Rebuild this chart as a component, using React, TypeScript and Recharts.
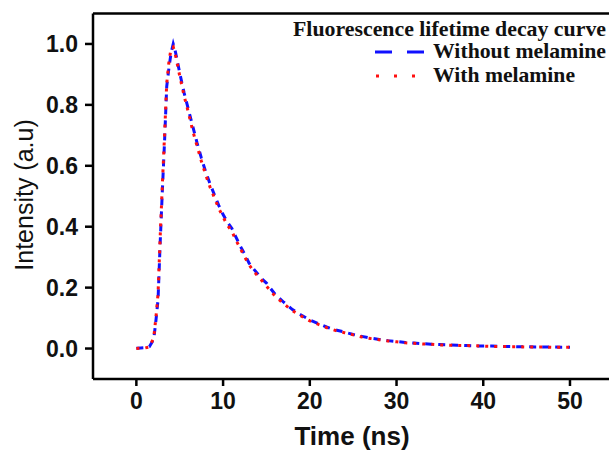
import {
  LineChart,
  Line,
  XAxis,
  YAxis,
  Label,
  Legend,
  ReferenceLine,
} from 'recharts'

// time axis (ns)
const times = [
  0, 0.5, 1, 1.5,
  2, 2.25, 2.5, 2.75, 3, 3.25, 3.5, 3.75, 4, 4.25, 4.5, 4.75,
  5, 5.5, 6, 6.5, 7, 7.5, 8, 8.5, 9, 9.5, 10, 10.5, 11, 11.5, 12, 12.5, 13, 13.5, 14, 14.5, 15,
  16, 17, 18, 19, 20, 21, 22, 23, 24, 25, 26, 27, 28, 29, 30, 31, 32, 33,
  34, 35, 36, 37, 38, 39, 40, 41, 42, 43, 44, 45, 46, 47, 48, 49, 50,
]

const withoutMelamine = [
  0.001, 0.002, 0.003, 0.006,
  0.03, 0.09, 0.16, 0.35, 0.52, 0.68, 0.86, 0.92, 0.97, 1.0, 0.975, 0.94,
  0.905, 0.84, 0.785, 0.73, 0.675, 0.625, 0.58, 0.54, 0.505, 0.47, 0.44, 0.415, 0.395, 0.365, 0.335, 0.31, 0.28, 0.262, 0.245, 0.228, 0.215,
  0.178, 0.152, 0.128, 0.11, 0.094, 0.082, 0.07, 0.061, 0.054, 0.046, 0.04, 0.034, 0.03, 0.026, 0.023, 0.02, 0.018, 0.016,
  0.014, 0.013, 0.012, 0.011, 0.01, 0.009, 0.008, 0.008, 0.007, 0.007, 0.006, 0.006, 0.005, 0.005, 0.005, 0.004, 0.004,
]

const withMelamine = [
  0.0, 0.001, 0.002, 0.005,
  0.035, 0.1, 0.18, 0.37, 0.54, 0.7, 0.87, 0.94, 0.985, 0.99, 0.965, 0.93,
  0.895, 0.83, 0.775, 0.715, 0.665, 0.615, 0.57, 0.53, 0.495, 0.46, 0.432, 0.405, 0.385, 0.355, 0.328, 0.3, 0.275, 0.255, 0.238, 0.222, 0.205,
  0.172, 0.147, 0.124, 0.107, 0.091, 0.079, 0.068, 0.059, 0.052, 0.045, 0.038, 0.033, 0.029, 0.025, 0.022, 0.019, 0.017, 0.015,
  0.014, 0.012, 0.011, 0.01, 0.01, 0.009, 0.008, 0.007, 0.007, 0.006, 0.006, 0.005, 0.005, 0.005, 0.004, 0.004, 0.004,
]

const xTicks = [0, 10, 20, 30, 40, 50]
const yTicks = [0, 0.2, 0.4, 0.6, 0.8, 1.0]

const data = times.map((t, i) => ({
  t,
  without: withoutMelamine[i],
  with: withMelamine[i],
}))

const sans = '"Liberation Sans", Arial, sans-serif'
const serif = '"Liberation Serif", "Times New Roman", serif'

const tickStyle = { fontSize: 23, fontWeight: 700, fill: '#111', fontFamily: sans }

const renderLegend = () => (
  <svg width={609} height={95} style={{ display: 'block' }}>
    <text x={293} y={36} textLength={313} lengthAdjust="spacingAndGlyphs"
      fontFamily={serif} fontWeight={700} fontSize={21} fill="#111">
      Fluorescence lifetime decay curve
    </text>
    <line x1={375} x2={424} y1={52} y2={52} stroke="#1010ff" strokeWidth={3} strokeDasharray="17 15" />
    <text x={433} y={58} textLength={173} lengthAdjust="spacingAndGlyphs"
      fontFamily={serif} fontWeight={700} fontSize={21} fill="#111">
      Without melamine
    </text>
    <line x1={376} x2={416} y1={76} y2={76} stroke="#ff1010" strokeWidth={3} strokeDasharray="3 15" />
    <text x={433} y={82} textLength={142} lengthAdjust="spacingAndGlyphs"
      fontFamily={serif} fontWeight={700} fontSize={21} fill="#111">
      With melamine
    </text>
  </svg>
)

const App = () => {
  return (
    <div style={{ position: 'absolute', left: 0, top: 0, width: 609, height: 450, background: '#fff' }}>
      <LineChart
        width={609}
        height={450}
        data={data}
        margin={{ top: 13.5, right: 0, left: 0, bottom: 0 }}
      >
        <XAxis
          dataKey="t"
          type="number"
          domain={[-5, 54.5]}
          ticks={xTicks}
          allowDataOverflow
          height={71}
          tickSize={7}
          tickMargin={7}
          tick={tickStyle}
          axisLine={{ stroke: '#000', strokeWidth: 2.5 }}
          tickLine={{ stroke: '#000', strokeWidth: 2.5 }}
        >
          <Label
            content={() => (
              <text x={352} y={445} textAnchor="middle" fontFamily={sans}
                fontWeight={700} fontSize={26} fill="#111">
                Time (ns)
              </text>
            )}
          />
        </XAxis>
        <YAxis
          type="number"
          domain={[-0.1, 1.1]}
          ticks={yTicks}
          allowDataOverflow
          width={93}
          tickSize={8}
          tickMargin={7}
          tickFormatter={(v: number) => v.toFixed(1)}
          tick={tickStyle}
          axisLine={{ stroke: '#000', strokeWidth: 2.5 }}
          tickLine={{ stroke: '#000', strokeWidth: 2.5 }}
        >
          <Label
            content={() => (
              <text x={24} y={195} transform="rotate(-90 24 195)" textAnchor="middle"
                dominantBaseline="central" fontFamily={sans} fontSize={25} fill="#111">
                Intensity (a.u)
              </text>
            )}
          />
        </YAxis>
        <ReferenceLine y={1.1} stroke="#000" strokeWidth={2.5} />
        <Legend
          content={renderLegend}
          layout="horizontal"
          verticalAlign="middle"
          align="center"
          wrapperStyle={{ left: 0, top: 0, width: 609, height: 95 }}
        />
        <Line
          type="linear"
          dataKey="without"
          stroke="#1010ff"
          strokeWidth={3}
          strokeDasharray="7 6"
          dot={false}
          isAnimationActive={false}
        />
        <Line
          type="linear"
          dataKey="with"
          stroke="#ff1010"
          strokeWidth={3}
          strokeDasharray="3 6"
          dot={false}
          isAnimationActive={false}
        />
      </LineChart>
    </div>
  )
}

export default App
